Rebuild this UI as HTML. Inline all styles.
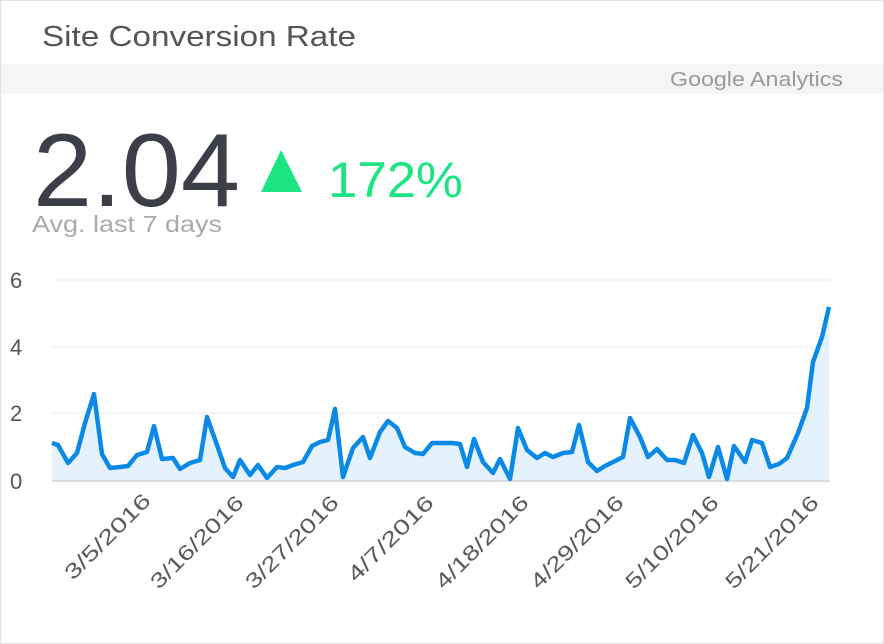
<!DOCTYPE html>
<html><head><meta charset="utf-8"><style>
html,body{margin:0;padding:0;background:#fff}
body{width:884px;height:644px;position:relative;overflow:hidden;font-family:"Liberation Sans",sans-serif}
.frame{position:absolute;left:0;top:0;width:882px;height:642px;border:1px solid #e2e2e2}
</style></head><body>
<div class="frame"></div>
<svg width="884" height="644" style="position:absolute;left:0;top:0" font-family="Liberation Sans, sans-serif">
<text x="42" y="46" font-size="29" fill="#555" textLength="314" lengthAdjust="spacingAndGlyphs">Site Conversion Rate</text>
<rect x="1" y="64" width="882" height="30" fill="#f5f5f5"/>
<text x="670" y="86" font-size="20" fill="#999" textLength="173" lengthAdjust="spacingAndGlyphs">Google Analytics</text>
<text x="33" y="206" font-size="104" fill="#3d3f48" textLength="207" lengthAdjust="spacingAndGlyphs">2.04</text>
<polygon points="261,192 281,150 302,192" fill="#1de584"/>
<text x="328" y="197" font-size="50" fill="#1de584" textLength="135" lengthAdjust="spacingAndGlyphs">172%</text>
<text x="32" y="232" font-size="23" fill="#aaa" textLength="190" lengthAdjust="spacingAndGlyphs">Avg. last 7 days</text>
<g stroke="#f2f2f2" stroke-width="1.5">
<line x1="52" y1="280" x2="830" y2="280"/><line x1="52" y1="347" x2="830" y2="347"/><line x1="52" y1="413" x2="830" y2="413"/>
</g>
<g font-size="22" fill="#555">
<text x="10" y="288">6</text><text x="10" y="355">4</text><text x="10" y="421">2</text><text x="10" y="489">0</text>
</g>
<polygon fill="#e5f1fc" points="52,481 52,443 58,445 68,463 77,453 85,423 94,394 102,454 110,468 120,467 128,466 137,455 147,452 154,426 162,459 173,458 180,469 190,463 200,460 207,417 217,445 225,468 233,477 240,460 250,475 258,465 267,478 277,467 285,468 293,465 303,462 312,446 320,442 328,440 335,409 343,477 353,448 363,437 370,458 380,432 388,421 397,428 405,447 415,453 423,454 432,443 443,443 452,443 460,444 467,467 474,439 483,462 493,473 500,459 510,479 518,428 527,450 537,458 545,453 553,457 563,453 572,452 579,425 588,462 597,471 605,466 623,457 630,418 640,437 648,457 657,449 667,460 675,460 684,463 693,435 702,453 709,477 718,447 727,479 734,446 745,462 752,440 762,443 770,467 779,464 787,458 798,433 807,408 813,362 822,337 829,307 829,481"/>
<line x1="52" y1="481" x2="830" y2="481" stroke="#ddd" stroke-width="2"/>
<polyline fill="none" stroke="#0a8ae6" stroke-width="4.5" stroke-linejoin="round" points="52,443 58,445 68,463 77,453 85,423 94,394 102,454 110,468 120,467 128,466 137,455 147,452 154,426 162,459 173,458 180,469 190,463 200,460 207,417 217,445 225,468 233,477 240,460 250,475 258,465 267,478 277,467 285,468 293,465 303,462 312,446 320,442 328,440 335,409 343,477 353,448 363,437 370,458 380,432 388,421 397,428 405,447 415,453 423,454 432,443 443,443 452,443 460,444 467,467 474,439 483,462 493,473 500,459 510,479 518,428 527,450 537,458 545,453 553,457 563,453 572,452 579,425 588,462 597,471 605,466 623,457 630,418 640,437 648,457 657,449 667,460 675,460 684,463 693,435 702,453 709,477 718,447 727,479 734,446 745,462 752,440 762,443 770,467 779,464 787,458 798,433 807,408 813,362 822,337 829,307"/>
<g font-size="21" fill="#5a5a5a" text-anchor="end">
<text transform="translate(152,502) rotate(-45)" textLength="112" lengthAdjust="spacingAndGlyphs">3/5/2016</text>
<text transform="translate(245,504) rotate(-45)" textLength="122" lengthAdjust="spacingAndGlyphs">3/16/2016</text>
<text transform="translate(340,504) rotate(-45)" textLength="122" lengthAdjust="spacingAndGlyphs">3/27/2016</text>
<text transform="translate(435,504) rotate(-45)" textLength="112" lengthAdjust="spacingAndGlyphs">4/7/2016</text>
<text transform="translate(530,504) rotate(-45)" textLength="122" lengthAdjust="spacingAndGlyphs">4/18/2016</text>
<text transform="translate(625,504) rotate(-45)" textLength="122" lengthAdjust="spacingAndGlyphs">4/29/2016</text>
<text transform="translate(720,504) rotate(-45)" textLength="122" lengthAdjust="spacingAndGlyphs">5/10/2016</text>
<text transform="translate(820,504) rotate(-45)" textLength="122" lengthAdjust="spacingAndGlyphs">5/21/2016</text>
</g>
</svg>
</body></html>
